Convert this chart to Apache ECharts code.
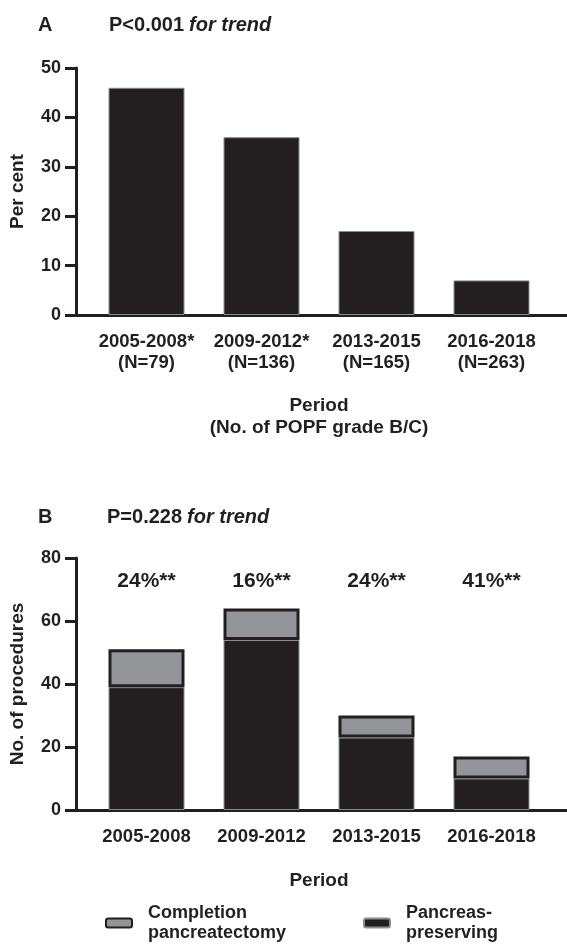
<!DOCTYPE html>
<html>
<head>
<meta charset="utf-8">
<script src="https://cdn.jsdelivr.net/npm/echarts@6/dist/echarts.min.js"></script>
<style>
html,body{margin:0;padding:0;background:#fff;}
#chart{width:567px;height:946px;}
</style>
</head>
<body>
<div id="chart"></div>
<script>
// ---- Data ----
const periodsA = ['2005-2008*', '2009-2012*', '2013-2015', '2016-2018'];
const countsA = ['(N=79)', '(N=136)', '(N=165)', '(N=263)'];
const popfPercent = [46, 36, 17, 7];

const periodsB = ['2005-2008', '2009-2012', '2013-2015', '2016-2018'];
const pancreasPreserving = [39, 54, 23, 10];
const completionPancreatectomy = [12, 10, 7, 7];
const pctLabels = ['24%**', '16%**', '24%**', '41%**'];

const seriesNames = ['Completion pancreatectomy', 'Pancreas-preserving'];
const legendLabels = ['Completion\npancreatectomy', 'Pancreas-\npreserving'];

// ---- Styles ----
const FONT = 'Liberation Sans, Arial, Helvetica, sans-serif';
const INK = '#231f20';
const GREY = '#939598';

const chart = echarts.init(document.getElementById('chart'), null, {renderer: 'canvas'});

function frameX(grid) {
  return {
    gridIndex: grid, type: 'value', min: 0, max: 1,
    axisLine: {show: true, lineStyle: {color: INK, width: 3}},
    axisTick: {show: false}, axisLabel: {show: false}, splitLine: {show: false}
  };
}
function frameY(grid, max, interval, name) {
  return {
    gridIndex: grid, type: 'value', min: 0, max: max, interval: interval,
    axisLine: {show: true, lineStyle: {color: INK, width: 3}},
    axisTick: {show: true, length: 11, lineStyle: {color: INK, width: 3}},
    axisLabel: {show: true, margin: 15, color: INK, fontFamily: FONT, fontWeight: 'bold', fontSize: 18},
    splitLine: {show: false},
    name: name, nameLocation: 'middle', nameGap: 49,
    nameTextStyle: {color: INK, fontFamily: FONT, fontWeight: 'bold', fontSize: 19}
  };
}
function hiddenY(grid, max) {
  return {gridIndex: grid, type: 'value', min: 0, max: max, show: false};
}
const catLabelStyle = {color: INK, fontFamily: FONT, fontWeight: 'bold', fontSize: 18.5, lineHeight: 21};
const titleBold = {color: INK, fontFamily: FONT, fontWeight: 'bold', fontSize: 20};
const titleItalic = {color: INK, fontFamily: FONT, fontStyle: 'italic', fontSize: 20};
const legendText = {color: INK, fontFamily: FONT, fontWeight: 'bold', fontSize: 18, lineHeight: 20, padding: [0, 0, 0, 11]};

const option = {
  backgroundColor: '#fff',
  animation: false,
  textStyle: {fontFamily: FONT},
  title: [
    {text: 'A', left: 33, top: 10, textStyle: titleBold},
    {text: '{b|P<0.001} {i|for trend}', left: 104, top: 10,
     textStyle: {rich: {b: titleBold, i: titleItalic}}},
    {text: 'B', left: 33, top: 502, textStyle: titleBold},
    {text: '{b|P=0.228} {i|for trend}', left: 102, top: 502,
     textStyle: {rich: {b: titleBold, i: titleItalic}}}
  ],
  grid: [
    {left: 71, right: 0, top: 68, height: 247},
    {left: 89, right: 18, top: 68, height: 247},
    {left: 71, right: 0, top: 558, height: 252},
    {left: 89, right: 18, top: 558, height: 252}
  ],
  xAxis: [
    frameX(0),
    {
      gridIndex: 1, type: 'category',
      data: periodsA.map((p, i) => p + '\n' + countsA[i]),
      axisLine: {show: false}, axisTick: {show: false},
      axisLabel: Object.assign({margin: 16, interval: 0}, catLabelStyle),
      name: 'Period\n(No. of POPF grade B/C)', nameLocation: 'middle', nameGap: 80,
      nameTextStyle: {color: INK, fontFamily: FONT, fontWeight: 'bold', fontSize: 19, lineHeight: 22}
    },
    frameX(2),
    {
      gridIndex: 3, type: 'category', data: periodsB,
      axisLine: {show: false}, axisTick: {show: false},
      axisLabel: Object.assign({margin: 16, interval: 0}, catLabelStyle),
      name: 'Period', nameLocation: 'middle', nameGap: 61,
      nameTextStyle: {color: INK, fontFamily: FONT, fontWeight: 'bold', fontSize: 19}
    },
    {
      gridIndex: 3, type: 'category', data: pctLabels, position: 'top',
      axisLine: {show: false}, axisTick: {show: false},
      axisLabel: {inside: true, margin: 13, interval: 0, color: INK, fontFamily: FONT, fontWeight: 'bold', fontSize: 21}
    }
  ],
  yAxis: [
    frameY(0, 50, 10, 'Per cent'),
    hiddenY(1, 50),
    frameY(2, 80, 20, 'No. of procedures'),
    hiddenY(3, 80)
  ],
  legend: [
    {data: [seriesNames[0]], left: 105, top: 903, padding: 0, orient: 'horizontal',
     itemWidth: 26, itemHeight: 9,
     formatter: n => legendLabels[seriesNames.indexOf(n)], textStyle: legendText},
    {data: [seriesNames[1]], left: 363, top: 903, padding: 0, orient: 'horizontal',
     itemWidth: 26, itemHeight: 9,
     formatter: n => legendLabels[seriesNames.indexOf(n)], textStyle: legendText}
  ],
  series: [
    {
      name: 'POPF', type: 'bar', xAxisIndex: 1, yAxisIndex: 1,
      data: popfPercent, barWidth: 76,
      itemStyle: {color: INK, borderColor: '#8a8c8e', borderWidth: 1}
    },
    {
      name: seriesNames[1], type: 'bar', stack: 'b', xAxisIndex: 3, yAxisIndex: 3,
      data: pancreasPreserving, barWidth: 76,
      itemStyle: {color: INK, borderColor: '#8a8c8e', borderWidth: 1}
    },
    {
      name: seriesNames[0], type: 'bar', stack: 'b', xAxisIndex: 3, yAxisIndex: 3,
      data: completionPancreatectomy, barWidth: 76,
      itemStyle: {color: GREY, borderColor: INK, borderWidth: 3}
    }
  ]
};
chart.setOption(option);
</script>
</body>
</html>
